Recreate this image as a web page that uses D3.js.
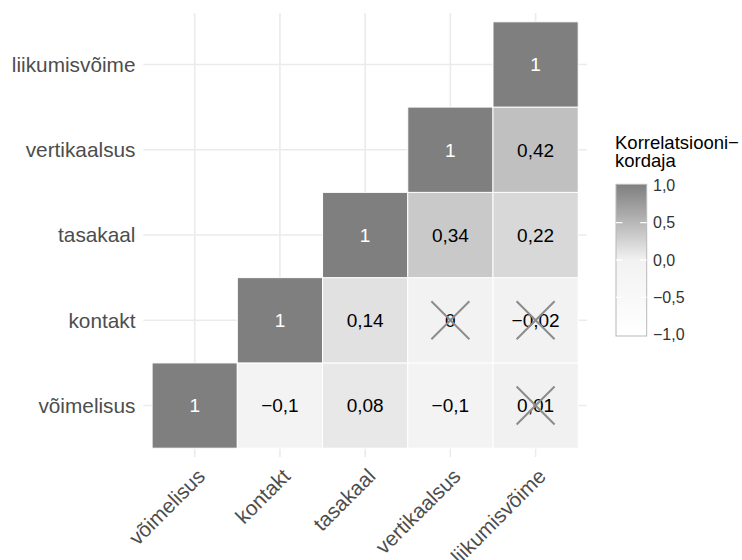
<!DOCTYPE html>
<html>
<head>
<meta charset="utf-8">
<script src="https://cdn.jsdelivr.net/npm/d3@7"></script>
<style>
  html, body { margin: 0; padding: 0; background: #fff; }
  text { font-family: "Liberation Sans", Arial, Helvetica, sans-serif; }
</style>
</head>
<body>
<svg id="chart" width="742" height="560"></svg>
<script>
// ---- data ----
const variables = ["võimelisus", "kontakt", "tasakaal", "vertikaalsus", "liikumisvõime"];
const rowVars = ["võimelisus","võimelisus","võimelisus","võimelisus","võimelisus",
                 "kontakt","kontakt","kontakt","kontakt",
                 "tasakaal","tasakaal","tasakaal",
                 "vertikaalsus","vertikaalsus",
                 "liikumisvõime"];
const colVars = ["võimelisus","kontakt","tasakaal","vertikaalsus","liikumisvõime",
                 "kontakt","tasakaal","vertikaalsus","liikumisvõime",
                 "tasakaal","vertikaalsus","liikumisvõime",
                 "vertikaalsus","liikumisvõime",
                 "liikumisvõime"];
const corrValues = [1, -0.1, 0.08, -0.1, 0.01,
                    1, 0.14, 0, -0.02,
                    1, 0.34, 0.22,
                    1, 0.42,
                    1];
const insignificant = [false,false,false,false,true,
                       false,false,true,true,
                       false,false,false,
                       false,false,
                       false];
const legendTicks = [1, 0.5, 0, -0.5, -1];
const legendTitle = ["Korrelatsiooni−", "kordaja"];

const cells = corrValues.map((v, i) => ({row: rowVars[i], col: colVars[i], value: v, ns: insignificant[i]}));

const fmt = v => {
  let s = String(Math.round(v * 100) / 100).replace(".", ",");
  return s.replace("-", "−");
};
const fmtLeg = v => d3.format(".1f")(v).replace(".", ",").replace("-", "−");

// ---- layout ----
const svg = d3.select("#chart");
const panel = {x0: 143.3, x1: 587, y0: 13, y1: 457};
const pad = 8.8;

const x = d3.scaleBand().domain(variables).range([panel.x0 + pad, panel.x1 - pad]).padding(0);
const y = d3.scaleBand().domain(variables).range([panel.y1 - pad, panel.y0 + pad]).padding(0);
const bw = x.bandwidth(), bh = y.bandwidth();

const color = d3.scaleLinear().domain([-1, 0, 1]).range(["#ffffff", "#f2f2f2", "#7f7f7f"])
  .interpolate(d3.interpolateLab).clamp(true);

// grid lines
const grid = svg.append("g");
grid.selectAll("line.v").data(variables).join("line")
  .attr("x1", d => x(d) + bw / 2).attr("x2", d => x(d) + bw / 2)
  .attr("y1", panel.y0).attr("y2", panel.y1)
  .attr("stroke", "#ebebeb").attr("stroke-width", 1.6);
grid.selectAll("line.h").data(variables).join("line")
  .attr("y1", d => y(d) + bh / 2).attr("y2", d => y(d) + bh / 2)
  .attr("x1", panel.x0).attr("x2", panel.x1)
  .attr("stroke", "#ebebeb").attr("stroke-width", 1.6);

// tiles
svg.append("g").selectAll("rect").data(cells).join("rect")
  .attr("x", d => x(d.col)).attr("y", d => y(d.row))
  .attr("width", bw).attr("height", bh)
  .attr("fill", d => color(d.value))
  .attr("stroke", "#ffffff").attr("stroke-width", 1);

// value labels
svg.append("g").selectAll("text").data(cells).join("text")
  .attr("x", d => x(d.col) + bw / 2)
  .attr("y", d => y(d.row) + bh / 2)
  .attr("dy", "0.36em")
  .attr("text-anchor", "middle")
  .attr("font-size", 19)
  .attr("fill", d => d.value === 1 ? "#ffffff" : "#000000")
  .text(d => fmt(d.value));

// crosses for insignificant
const cr = 19;
const crosses = svg.append("g").selectAll("g").data(cells.filter(d => d.ns)).join("g")
  .attr("transform", d => `translate(${x(d.col) + bw / 2},${y(d.row) + bh / 2})`);
crosses.append("line").attr("x1", -cr).attr("y1", -cr).attr("x2", cr).attr("y2", cr)
  .attr("stroke", "#8c8c8c").attr("stroke-width", 2);
crosses.append("line").attr("x1", -cr).attr("y1", cr).attr("x2", cr).attr("y2", -cr)
  .attr("stroke", "#8c8c8c").attr("stroke-width", 2);

// y axis labels
svg.append("g").selectAll("text").data(variables).join("text")
  .attr("x", 135.5)
  .attr("y", d => y(d) + bh / 2)
  .attr("dy", "0.36em")
  .attr("text-anchor", "end")
  .attr("font-size", 20.8)
  .attr("fill", "#4d4d4d")
  .text(d => d);

// x axis labels (rotated 45)
svg.append("g").selectAll("text").data(variables).join("text")
  .attr("transform", d => `translate(${x(d) + bw / 2 + 1},${467}) rotate(-45)`)
  .attr("dy", "0.72em")
  .attr("text-anchor", "end")
  .attr("font-size", 20.8)
  .attr("fill", "#4d4d4d")
  .text(d => d);

// ---- legend ----
const lg = svg.append("g");
lg.selectAll("text.title").data(legendTitle).join("text")
  .attr("x", 615).attr("y", (d, i) => 149 + i * 18)
  .attr("font-size", 18.5).attr("fill", "#000")
  .text(d => d);

const barX = 616, barW = 30.7, barTop = 184.3, barBot = 336;
const ly = d3.scaleLinear().domain([-1, 1]).range([334.7, 185.3]);
const defs = svg.append("defs");
const grad = defs.append("linearGradient").attr("id", "lgGrad")
  .attr("x1", 0).attr("y1", 1).attr("x2", 0).attr("y2", 0);
d3.range(-1, 1.0001, 0.1).forEach(v => {
  grad.append("stop").attr("offset", (v + 1) / 2).attr("stop-color", color(v));
});
lg.append("rect").attr("x", barX).attr("y", barTop).attr("width", barW).attr("height", barBot - barTop)
  .attr("fill", "url(#lgGrad)").attr("stroke", "#b8b8b8").attr("stroke-width", 1);
legendTicks.filter(v => Math.abs(v) < 1).forEach(v => {
  lg.append("line").attr("x1", barX).attr("x2", barX + 6.5).attr("y1", ly(v)).attr("y2", ly(v))
    .attr("stroke", "#fff").attr("stroke-width", 1.2);
  lg.append("line").attr("x1", barX + barW - 6.5).attr("x2", barX + barW).attr("y1", ly(v)).attr("y2", ly(v))
    .attr("stroke", "#fff").attr("stroke-width", 1.2);
});
lg.selectAll("text.tick").data(legendTicks).join("text")
  .attr("x", 653).attr("y", d => ly(d)).attr("dy", "0.36em")
  .attr("font-size", 16).attr("fill", "#333")
  .text(d => fmtLeg(d));
</script>
</body>
</html>
